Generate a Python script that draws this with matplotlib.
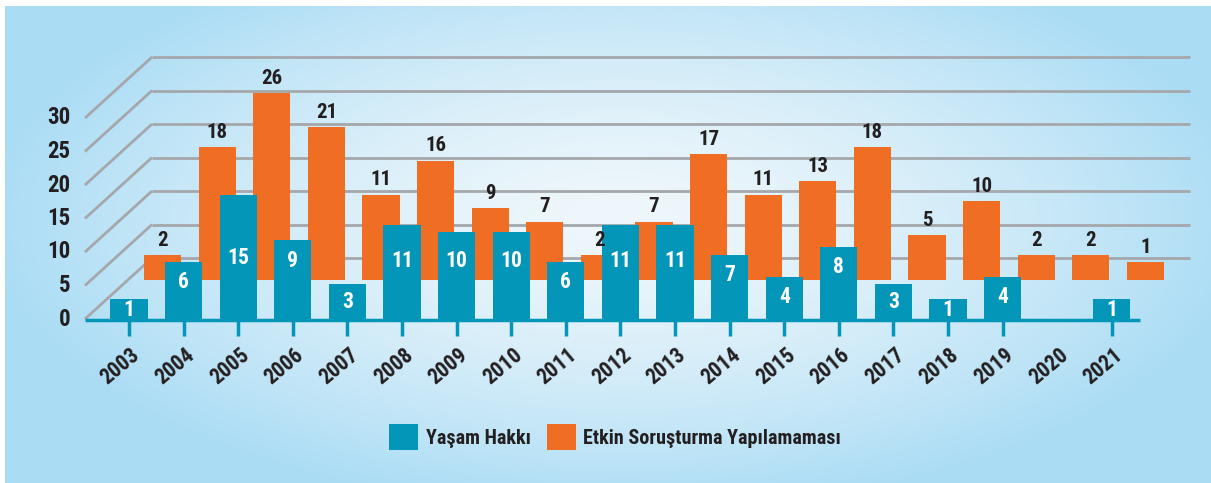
import numpy as np
import matplotlib
matplotlib.use("Agg")
import matplotlib.pyplot as plt
from matplotlib import font_manager
from matplotlib.patches import Patch

# data
years = ["2003", "2004", "2005", "2006", "2007", "2008", "2009", "2010", "2011", "2012",
         "2013", "2014", "2015", "2016", "2017", "2018", "2019", "2020", "2021"]
yasam = [1, 6, 15, 9, 3, 11, 10, 10, 6, 11, 11, 7, 4, 8, 3, 1, 4, 0, 1]
etkin = [2, 18, 26, 21, 11, 16, 9, 7, 2, 7, 17, 11, 13, 18, 5, 10, 2, 2, 1]
yticks = [0, 5, 10, 15, 20, 25, 30]
labels = ["Yaşam Hakkı", "Etkin Soruşturma Yapılamaması"]

TEAL = "#0396b8"
ORANGE = "#f06e23"
DARK = "#231f20"
GRID = "#a5a7aa"


def pick_font(names):
    for n in names:
        try:
            font_manager.findfont(font_manager.FontProperties(family=n), fallback_to_default=False)
            return n
        except ValueError:
            pass
    return "DejaVu Sans"


FONT = pick_font(["Liberation Sans Narrow", "Roboto Condensed", "DejaVu Sans"])
plt.rcParams["font.family"] = [FONT, "DejaVu Sans"]
plt.rcParams["font.weight"] = "bold"
plt.rcParams["font.stretch"] = "condensed"

W, H = 1211, 483
fig = plt.figure(figsize=(W / 100, H / 100), dpi=100)

# background gradient (light centre, blue edges)
bg = fig.add_axes([0, 0, 1, 1], zorder=0)
yy, xx = np.mgrid[0:H, 0:W]
r = np.sqrt(((xx - 620) / 630.0) ** 2 + ((yy - 220) / 290.0) ** 2)
t = np.clip(r, 0, 1) ** 1.5
c0 = np.array([0.935, 0.968, 0.985])
c1 = np.array([0.67, 0.865, 0.96])
img = c0[None, None, :] * (1 - t[..., None]) + c1[None, None, :] * t[..., None]
img[:6, :, :] = 1.0
img[:, :5, :] = 1.0
bg.imshow(img, extent=[0, 1, 0, 1], aspect="auto", origin="upper")
bg.set_axis_off()

# x in "slot" units: year i sits at x=i (front row)
SLOT = 54.6
X0 = 129.0
xlim = (-X0 / SLOT, (W - X0) / SLOT)
x = np.arange(len(years))


def layer(zero_px, px_per_unit, z):
    ax = fig.add_axes([0, 0, 1, 1], zorder=z)
    ax.set_xlim(*xlim)
    ax.set_ylim((zero_px - H) / px_per_unit, zero_px / px_per_unit)
    ax.set_axis_off()
    ax.patch.set_alpha(0)
    return ax


# 3d-ish frame: front scale for tick labels, back wall for gridlines
frame = layer(319, 6.7, 1)
DEPTH = 9.1
XL, XB, XR = -0.806, 0.421, 19.43
for tv in yticks:
    frame.plot([XL, XB], [tv, tv + DEPTH], color=GRID, lw=2, solid_capstyle="butt")
    frame.plot([XB, XR], [tv + DEPTH, tv + DEPTH], color=GRID, lw=2, solid_capstyle="butt")
    frame.text(-1.08, tv, str(tv), ha="right", va="center", fontsize=16.5, color=DARK)

# back row: orange bars standing on a floor slightly below zero
back = layer(269, 6.76, 2)
FLOOR_B = -1.63
ox = x + 0.615
back.bar(ox, np.array(etkin) - FLOOR_B, bottom=FLOOR_B, width=0.68, color=ORANGE, lw=0)

# front row: teal bars
front = layer(306.4, 7.4, 3)
FLOOR_F = -1.84
yv = np.array(yasam)
has = yv > 0
front.bar(x[has], yv[has] - FLOOR_F, bottom=FLOOR_F, width=0.68, color=TEAL, lw=0)
front.plot([-0.806, 18.52], [FLOOR_F, FLOOR_F], color=TEAL, lw=2.5, solid_capstyle="butt")
front.vlines(x[has], FLOOR_F - 16 / 7.4, FLOOR_F, color=TEAL, lw=2.5)

for xi, v in zip(x, yasam):
    if v <= 0:
        continue
    ly = max(min(v - 2.7, 6.2), (v + FLOOR_F) / 2)
    front.text(xi, ly, str(v), ha="center", va="center", color="white", fontsize=15.5)

# year labels
for xi, yr in zip(x, years):
    front.text(xi + 0.02, FLOOR_F - 24 / 7.4, yr, rotation=40, rotation_mode="anchor",
               ha="right", va="top", color=DARK, fontsize=15.5)

# orange value labels (drawn on top of everything)
lab = layer(269, 6.76, 4)
for xi, v in zip(ox, etkin):
    lab.text(xi, v + 2.2, str(v), ha="center", va="center", color=DARK, fontsize=15)

handles = [Patch(facecolor=TEAL, edgecolor="none"), Patch(facecolor=ORANGE, edgecolor="none")]
leg = fig.legend(handles, labels, loc="center", bbox_to_anchor=(615 / W, 1 - 437 / H), ncol=2,
                 frameon=False, fontsize=14.5, handlelength=1.45, handleheight=1.6,
                 handletextpad=0.35, columnspacing=0.8)
for txt in leg.get_texts():
    txt.set_color(DARK)
leg.set_zorder(5)

fig.savefig("out.png", dpi=100)
